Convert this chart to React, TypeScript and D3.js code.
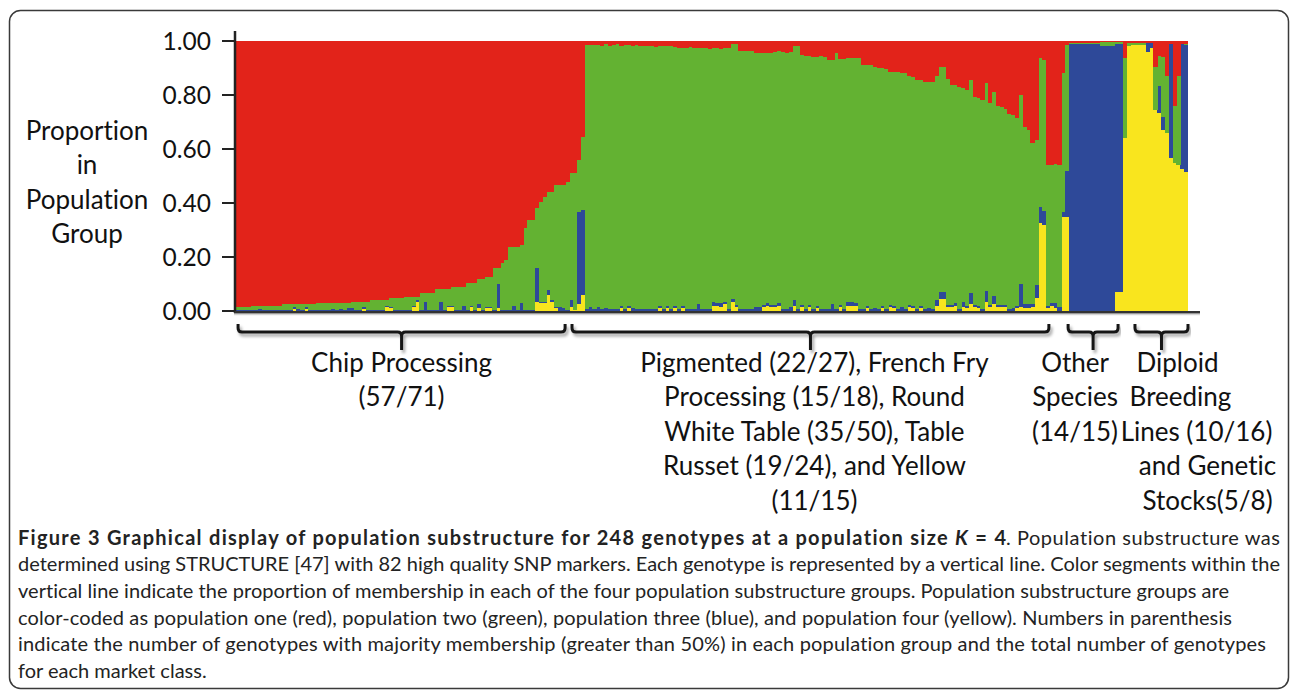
import React from 'react';
import * as d3 from 'd3';

// Membership proportions (%) per genotype, 248 genotypes, in plotted order
const red = [
98.6,98.6,98.6,98.6,98.1,98.1,98.1,98.1,98.1,98.1,
98.1,98.1,97.5,97.5,97.5,97.5,97.5,97.5,97.5,97.5,
97.5,97.2,97.2,97.2,97.2,97.2,97.2,97.2,97.2,97.2,
96.5,96.5,96.5,96.5,96.5,95.9,95.9,95.9,95.9,95.9,
95.3,95.3,95.3,95.3,94.7,94.7,94.7,94.7,93.5,93.5,
93.5,93.5,92,92,92,92,91.2,91.2,91.2,91.2,
89.8,89.8,89.8,88.3,88.3,87.3,87.3,84.2,84.2,82.4,
81.1,76.2,76.2,76.2,75.6,69.4,66.3,66.3,62,59.5,
57.7,55.8,55.8,53.3,53.3,53.3,52.1,49,49,44.1,
35.5,1.5,1.5,1.5,1.5,2,1.2,2,1.5,1.2,
2,1.5,1.5,2,1.5,2,2,1.8,2,2.2,
2,1.8,2,2,2.3,2.5,2.5,2.7,2.3,2.5,
2.7,2.7,2.7,2.9,2.7,2.7,2.9,2.7,2.7,1.2,
1.2,3.6,3.6,3.6,3.6,4.3,4.3,4.3,4.3,4.3,
4,3.8,4,4.3,4,2,2,5.2,5.5,5.5,
5.8,5.8,5.5,5.8,7,7,4.5,6.5,6.5,6.4,
6.4,6.4,6.4,8.9,8.9,8.9,9.5,10,10,10.5,
11.4,11.4,11.4,12,12,13,13.5,14.4,14.4,15,
15,15,13,9.8,9.8,14,16.3,16.3,17,17.5,
18.1,14.4,20.6,21,21.8,15.7,23.1,18.8,24,24.3,
25,27,27.4,28.5,20,31.7,33,37.9,36.7,6.4,
7,46,46,45.5,46,12,1.5,0.6,0.6,0.6,
0.6,0.6,0.6,0.6,0.6,0.5,0.5,0.5,0.5,0.5,
0.5,6.4,0.6,0.6,0.6,0.6,0.6,0.6,0.6,9.5,
5.5,6,13,1,24,13,1,1
];

const green = [
0.9,0.9,0.9,0.9,1.4,1.4,1.1,1.4,1.4,1.4,
1.4,1.4,2,2,2,1.2,1.7,2,1.2,2,
2,2.3,2.3,2.3,2.3,2,2.3,2,2.3,1.8,
2.5,3,3,1.9,3,3.6,3.6,3.6,3.6,2.1,
3.2,4.2,4.2,4.2,4.8,4.8,3.3,1.3,6,3.2,
6,6,7.5,4.7,7.5,6,6.8,8.3,8.3,6.8,
9.7,8.2,9.7,9.2,11.2,11.2,11.2,15.3,5.8,17.1,
18.4,23.3,22,23.3,21.4,30.1,33.2,33.2,22.2,37,
38.8,36.4,40.2,45.2,45.2,45.7,47.4,47,50.5,19.4,
27.1,97.7,97,97.7,97,97.2,97.6,97.2,97.7,98,
96,97.7,96.5,96.8,97.7,97.2,97.2,97.4,97.2,97,
96.2,97.4,96.2,97.2,95.9,96.7,95.7,96.5,96.9,96.7,
94.8,96.5,96.5,96.3,94.1,94.5,94.1,94,96.5,94.3,
96.5,95.6,95.6,95.6,95.6,94.2,94.2,93.4,92.9,93.4,
93.7,93.4,95.2,94.9,94.5,94,97.2,92.5,93.7,92.2,
93.4,92.4,93.7,93.4,92.2,90.5,94.7,91.2,92.7,90.1,
90.1,90.8,92.8,90.3,89.3,90.3,89.3,89.2,88.2,88.7,
86.3,86.6,87.8,86.5,87.2,84.7,84.7,84.8,83.8,84.2,
83.8,84.2,83,83.2,83.2,83.7,81.4,80.9,82.2,79,
80.1,79.1,77.1,77.2,77.4,76.8,74.6,75.7,73.7,73.4,
72.7,72.2,71.4,69.7,70,65.8,64.5,59.4,53.8,55.1,
56,52.2,51.2,51.5,52.5,51.5,46.5,0.5,0.5,0.5,
0.5,0.5,0.5,0.5,0.5,1.5,1.5,1.5,1.5,0.5,
0.5,29.6,1.4,1,1,1,1,0,0,16,
11,22.3,21,0,21,33,0,0.5
];

const blue = [
0.5,0.5,0.5,0.5,0.5,0.5,0.8,0.5,0.5,0.5,
0.5,0.5,0.5,0.5,0.5,0.5,0.8,0.5,0.5,0.5,
0.5,0.5,0.5,0.5,0.5,0.8,0.5,0.8,0.5,1,
1,0.5,0.5,0.8,0.5,0.5,0.5,0.5,0.5,0.5,
0.5,0.5,0.5,0.5,0.5,0.5,0.5,0.5,0.5,3.3,
0.5,0.5,0.5,3.3,0.5,0.5,0.5,0.5,0.5,2,
0.5,0.5,0.5,1.5,0.5,0.5,0.5,0.5,9,0.5,
0.5,0.5,1.8,0.5,3,0.5,0.5,0.5,12.5,0.5,
0.5,1.8,0.5,0.5,1.5,1,0.5,2.5,0,34,
31.5,0.8,1.5,0.8,1.5,0.8,1.2,0.8,0.8,0.8,
0.8,0.8,0.8,1.2,0.8,0.8,0.8,0.8,0.8,0.8,
0.8,0.8,0.8,0.8,0.8,0.8,0.8,0.8,0.8,0.8,
2.5,0.8,0.8,0.8,1.2,0.8,1.5,0.8,0.8,1,
0.8,0.8,0.8,0.8,0.8,1.5,1.5,0.8,0.8,0.8,
0.8,0.8,0.8,0.8,1.5,2,0.8,0.8,0.8,0.8,
0.8,0.8,0.8,0.8,0.8,2.5,0.8,0.8,0.8,1.5,
1.5,0.8,0.8,0.8,0.8,0.8,1.2,0.8,0.8,0.8,
0.8,0.8,0.8,1.5,0.8,0.8,0.8,0.8,0.8,0.8,
1.2,0.8,2,2.5,2.5,0.8,0.8,0.8,0.8,2,
0.8,4,0.8,0.8,0.8,4,0.8,3,0.8,0.8,
0.8,0.8,1.2,0.8,8.5,1.5,1.5,1.2,4.5,6,
5,0.8,0.8,2,1.5,1.5,17,98.9,98.9,98.9,
98.9,98.9,98.9,98.9,98.9,98,98,98,98,92,
92,0,0,0,0,0,0,3.5,2,0,
10,4.7,0,42.5,0,0,46.5,47
];

const yellow = [
0,0,0,0,0,0,0,0,0,0,
0,0,0,0,0,0.8,0,0,0.8,0,
0,0,0,0,0,0,0,0,0,0,
0,0,0,0.8,0,0,0,0,0,1.5,
1,0,0,0,0,0,1.5,3.5,0,0,
0,0,0,0,0,1.5,1.5,0,0,0,
0,1.5,0,1,0,1,1,0,1,0,
0,0,0,0,0,0,0,0,3.3,3,
3,6,3.5,1,0,0,0,1.5,0.5,2.5,
5.9,0,0,0,0,0,0,0,0,0,
1.2,0,1.2,0,0,0,0,0,0,0,
1,0,1,0,1,0,1,0,0,0,
0,0,0,0,2,2,1.5,2.5,0,3.5,
1.5,0,0,0,0,0,0,1.5,2,1.5,
1.5,2,0,0,0,2,0,1.5,0,1.5,
0,1,0,0,0,0,0,1.5,0,2,
2,2,0,0,1,0,0,0,1,0,
1.5,1.2,0,0,0,1.5,1,0,1,0,
0,0,2,4.5,4.5,1.5,1.5,2,0,1.5,
1,2.5,1.5,1,0,3.5,1.5,2.5,1.5,1.5,
1.5,0,0,1,1.5,1,1,1.5,5,32.5,
32,1,2,1,0,35,35,0,0,0,
0,0,0,0,0,0,0,0,0,7,
7,64,98,98.4,98.4,98.4,98.4,95.9,97.4,74.5,
73.5,67,66,56.5,55,54,52.5,51.5
];

const yTicks = [0, 0.2, 0.4, 0.6, 0.8, 1.0];
const yTitle = ['Proportion', 'in', 'Population', 'Group'];

// market classes: span along genotype index axis
const classNames = ['chip', 'pigmented', 'other', 'diploid'];
const classStart = [0.8, 87.7, 216.8, 234.2];
const classEnd = [85.9, 211.8, 229.8, 248];
const classLabels = [
  ['Chip Processing', '(57/71)'],
  ['Pigmented (22/27), French Fry', 'Processing (15/18), Round', 'White Table (35/50), Table', 'Russet (19/24), and Yellow', '(11/15)'],
  ['Other', 'Species', '(14/15)'],
  ['Diploid', 'Breeding', 'Lines (10/16)', 'and Genetic', 'Stocks(5/8)'],
];

// layout (label centre offsets relative to bracket tip)
const labelOffsets = [
  [0, 0],
  [4, 4, 4, 4, 4],
  [-18, -18, -18],
  [16, 19, 35, 46, 46],
];

const colors: Record<string, string> = {
  red: '#e2231a',
  green: '#63b232',
  blue: '#2e4999',
  yellow: '#f9e51e',
};

const FONT = "Lato, 'Open Sans', sans-serif";

export default function App() {
  const n = red.length;
  const xi = d3.scaleLinear().domain([0, n]).range([235, 1188]);
  const y = d3.scaleLinear().domain([0, 1]).range([311, 41]);
  const rows = red.map((r, i) => ({ red: r, green: green[i], blue: blue[i], yellow: yellow[i] }));
  const keys = ['yellow', 'blue', 'green', 'red'];
  const series = d3.stack<any>().keys(keys).offset(d3.stackOffsetExpand)(rows as any);
  const fmt = d3.format('.2f');

  const braceTop = 324, braceLine = 332, braceTip = 350;
  const bracePath = (x1: number, x2: number) => {
    const t = (x1 + x2) / 2;
    return `M${x1},${braceTop} L${x1},${braceLine - 4} Q${x1},${braceLine} ${x1 + 4},${braceLine} L${t - 4},${braceLine} Q${t},${braceLine} ${t},${braceLine + 4} L${t},${braceTip} M${t},${braceLine + 4} Q${t},${braceLine} ${t + 4},${braceLine} L${x2 - 4},${braceLine} Q${x2},${braceLine} ${x2},${braceLine - 4} L${x2},${braceTop}`;
  };

  const capY0 = 544.5, capDy = 26.7;

  return (
    <svg width={1293} height={690} style={{ position: 'absolute', left: 0, top: 0, background: '#fff', fontVariantLigatures: 'none' }} fontFamily={FONT}>
      <defs>
        <filter id="sh" x="-5%" y="-60%" width="110%" height="250%">
          <feDropShadow dx="2" dy="3" stdDeviation="1.4" floodColor="#000" floodOpacity="0.35" />
        </filter>
      </defs>
      <rect x={9.5} y={10.5} width={1279} height={678} rx={11} fill="none" stroke="#3a3a3a" strokeWidth={1.5} />

      <g shapeRendering="crispEdges">
        {series.map((s) => (
          <g key={s.key} fill={colors[s.key]}>
            {s.map((d, i) => (
              <rect key={i} x={xi(i)} width={xi(i + 1) - xi(i) + 0.4} y={y(d[1])} height={Math.max(0, y(d[0]) - y(d[1]))} />
            ))}
          </g>
        ))}
      </g>

      {/* axes */}
      <line x1={235} x2={235} y1={31} y2={313} stroke="#222" strokeWidth={2.5} />
      <line x1={234} x2={1200} y1={312.3} y2={312.3} stroke="#333" strokeWidth={2.4} />
      <line x1={234} x2={1200} y1={314.6} y2={314.6} stroke="#bbb" strokeWidth={1.2} opacity={0.6} />
      {yTicks.map((t) => (
        <g key={t}>
          <line x1={222} x2={235} y1={y(t)} y2={y(t)} stroke="#222" strokeWidth={2} />
          <text x={211} y={y(t) + 8.5} textAnchor="end" fontSize={24.5} fill="#111">{fmt(t)}</text>
        </g>
      ))}
      {yTitle.map((t, k) => (
        <text key={t} x={87} y={139.5 + k * 34.5} textAnchor="middle" fontSize={26} fill="#111">{t}</text>
      ))}

      {/* brackets */}
      {classNames.map((c, g) => (
        <path key={c} d={bracePath(xi(classStart[g]), xi(classEnd[g]))} fill="none" stroke="#151515" strokeWidth={3} strokeLinejoin="round" filter="url(#sh)" />
      ))}
      {classNames.map((c, g) => {
        const tip = xi((classStart[g] + classEnd[g]) / 2);
        return (
          <g key={c + 'l'}>
            {classLabels[g].map((t, k) => (
              <text key={k} x={tip + labelOffsets[g][k]} y={371.5 + k * 34.5} textAnchor="middle" fontSize={26} fill="#111">{t}</text>
            ))}
          </g>
        );
      })}

      {/* caption */}
      <g fontSize={20} fill="#232323">
        <text x={18} y={capY0} textLength={988} lengthAdjust="spacing" fontWeight="bold">
          <tspan>Figure 3 Graphical display of population substructure for 248 genotypes at a population size </tspan>
          <tspan fontStyle="italic">K</tspan>
          <tspan> = 4</tspan>
        </text>
        <text x={1006} y={capY0} textLength={274} lengthAdjust="spacing">. Population substructure was</text>
        <text x={18} y={capY0 + capDy} textLength={1262} lengthAdjust="spacing">determined using STRUCTURE [47] with 82 high quality SNP markers. Each genotype is represented by a vertical line. Color segments within the</text>
        <text x={18} y={capY0 + 2 * capDy} textLength={1211} lengthAdjust="spacing">vertical line indicate the proportion of membership in each of the four population substructure groups. Population substructure groups are</text>
        <text x={18} y={capY0 + 3 * capDy} textLength={1214} lengthAdjust="spacing">color-coded as population one (red), population two (green), population three (blue), and population four (yellow). Numbers in parenthesis</text>
        <text x={18} y={capY0 + 4 * capDy} textLength={1248} lengthAdjust="spacing">indicate the number of genotypes with majority membership (greater than 50%) in each population group and the total number of genotypes</text>
        <text x={18} y={capY0 + 5 * capDy}>for each market class.</text>
      </g>
    </svg>
  );
}
